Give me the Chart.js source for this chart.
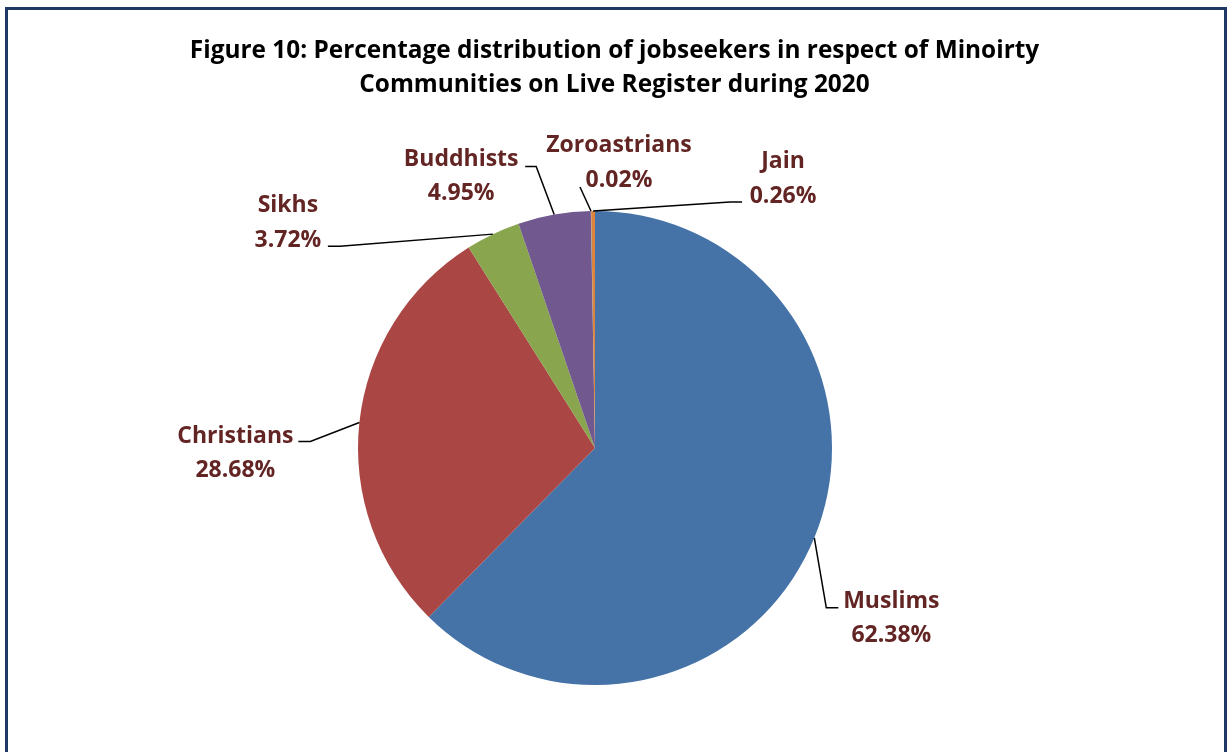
<!DOCTYPE html>
<html>
<head>
<meta charset="utf-8">
<script src="https://cdn.jsdelivr.net/npm/chart.js@4.4.1/dist/chart.umd.min.js"></script>
<style>
  body { margin: 0; background: #fff; overflow: hidden; }
  #frame { position: absolute; left: 5px; top: 7px; width: 1216px; height: 800px; border: 3px solid #1F3864; }
  #title { position: absolute; left: 0; top: 0; width: 1229px; text-align: center;
           font-family: "Open Sans", sans-serif; font-weight: bold; font-size: 24.4px; line-height: 34px;
           padding-top: 32px; color: #000; }
  canvas { position: absolute; left: 0; top: 0; }
</style>
</head>
<body>
<div id="frame"></div>
<canvas id="pie" width="1227" height="752"></canvas>
<div id="title">Figure 10: Percentage distribution of jobseekers in respect of Minoirty<br>Communities on Live Register during 2020</div>
<script>
const communities = ['Muslims', 'Christians', 'Sikhs', 'Buddhists', 'Zoroastrians', 'Jain'];
const shares = [62.38, 28.68, 3.72, 4.95, 0.02, 0.26];
const sliceColors = ['#4572A7', '#AA4643', '#89A54E', '#71588F', '#4198AF', '#DB843D'];

// where each label's first baseline sits, relative to the slice's edge point,
// plus the leader elbow and end (also relative to that point)
const labelOffsets = [[77, 70], [-124, 20], [-205, -22], [-93, -49], [28, -59], [190, -43]];
const leaderElbows = [[12, 70], [-49, 19], [-153, 12], [-18, -48], [-11, -24], [137, -9]];
const leaderEnds = [[24, 70], [-61, 19], [-165, 12], [-29, -48], [-11, -24], [149, -9]];

const leaderLabels = {
  id: 'leaderLabels',
  afterDatasetsDraw(chart) {
    const ctx = chart.ctx;
    const arcs = chart.getDatasetMeta(0).data;
    ctx.save();
    arcs.forEach((arc, i) => {
      const p = arc.getProps(['x', 'y', 'startAngle', 'endAngle', 'outerRadius'], true);
      const mid = (p.startAngle + p.endAngle) / 2;
      const ax = p.x + Math.cos(mid) * p.outerRadius;
      const ay = p.y + Math.sin(mid) * p.outerRadius;

      ctx.strokeStyle = '#000';
      ctx.lineWidth = 1.5;
      ctx.beginPath();
      ctx.moveTo(ax, ay);
      ctx.lineTo(ax + leaderElbows[i][0], ay + leaderElbows[i][1]);
      ctx.lineTo(ax + leaderEnds[i][0], ay + leaderEnds[i][1]);
      ctx.stroke();

      const lx = ax + labelOffsets[i][0];
      const ly = ay + labelOffsets[i][1];
      ctx.fillStyle = '#632523';
      ctx.font = 'bold 23px "Open Sans", sans-serif';
      ctx.textAlign = 'center';
      ctx.textBaseline = 'alphabetic';
      ctx.fillText(communities[i], lx, ly);
      ctx.fillText(shares[i].toFixed(2) + '%', lx, ly + 34.5);
    });
    ctx.restore();
  }
};

new Chart(document.getElementById('pie'), {
  type: 'pie',
  data: {
    labels: communities,
    datasets: [{
      data: shares,
      backgroundColor: sliceColors,
      borderWidth: 0,
      hoverOffset: 0
    }]
  },
  options: {
    responsive: false,
    animation: false,
    layout: { padding: { top: 211, bottom: 67, left: 0, right: 37 } },
    plugins: {
      legend: { display: false },
      tooltip: { enabled: false },
      title: { display: false }
    }
  },
  plugins: [leaderLabels]
});
</script>
</body>
</html>
